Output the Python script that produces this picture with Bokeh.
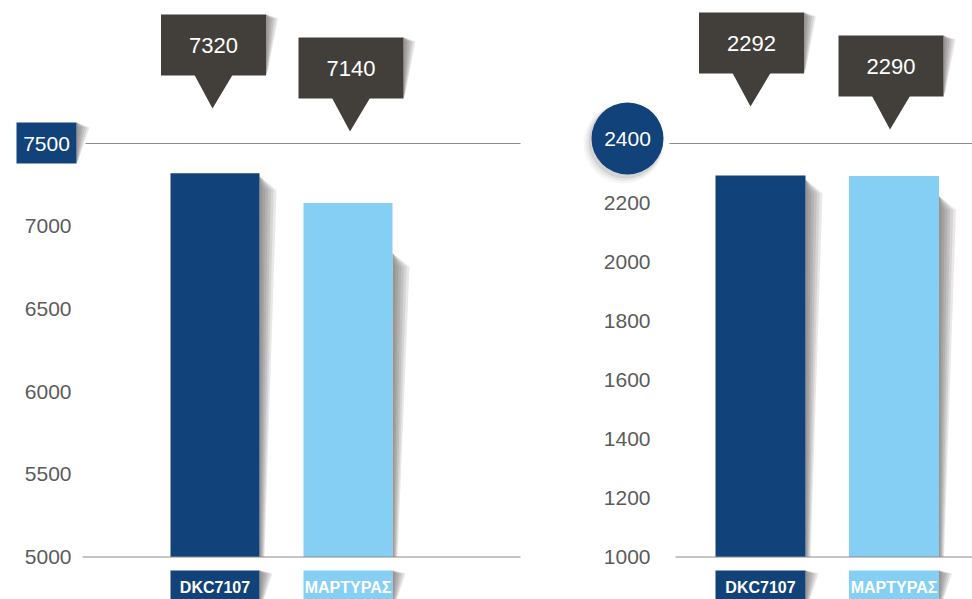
from bokeh.plotting import figure
from bokeh.models import Range1d
from bokeh.layouts import row
from bokeh.embed import file_html
from bokeh.resources import INLINE
from bokeh.core.properties import value

# ---------------- data ----------------
categories = ["DKC7107", "ΜΑΡΤΥΡΑΣ"]
left_values = [7320, 7140]
left_ticks = [5000, 5500, 6000, 6500, 7000, 7500]
right_values = [2292, 2290]
right_ticks = [1000, 1200, 1400, 1600, 1800, 2000, 2200, 2400]

# ---------------- style ----------------
BAR_COLORS = ["#11427a", "#85cff5"]
DARK_BLUE = "#11427a"
CALLOUT = "#423f3b"
TICK_GREY = "#5b5b5b"
LINE_GREY = "#8c8c8c"
SHADOW = "#3a3232"
FONT = "Liberation Sans"

FIG_H = 599
FIG_TOP = 0
BASE_PY = 556.5
TOP_PY = 143.0

LEFT_LAYOUT = dict(left=0, width=558, centers=[214.5, 347.5], bw=89, lab_right=71,
                   highlight="box", hl=(16, 76, 122, 163), grid=(85, 520), base=(82, 520),
                   c_tops=[14, 37], c_dx=[-1.5, 3], sh_off=[3, 50])
RIGHT_LAYOUT = dict(left=558, width=414, centers=[760, 893.5], bw=90, lab_right=650,
                    highlight="circle", hl=(627, 138, 72), grid=(669, 972), base=(675, 972),
                    c_tops=[12, 35], c_dx=[-9, -3], sh_off=[4, 20])


def build(ticks, values, cats, L):
    x0p = L["left"]
    unit = L["centers"][1] - L["centers"][0]
    xs = 1 - (L["centers"][0] - x0p) / unit
    vmin, vmax = ticks[0], ticks[-1]
    ppu = (BASE_PY - TOP_PY) / (vmax - vmin)

    def X(px):
        return xs + (px - x0p) / unit

    def Y(py):
        return vmin + (BASE_PY - py) / ppu

    def PX(x):
        return x0p + (x - xs) * unit

    def PY(v):
        return BASE_PY - (v - vmin) * ppu

    p = figure(width=L["width"], height=FIG_H,
               x_range=Range1d(X(x0p), X(x0p + L["width"])),
               y_range=Range1d(Y(FIG_TOP + FIG_H), Y(FIG_TOP)),
               output_backend="svg", toolbar_location=None,
               x_axis_location=None, y_axis_location=None,
               min_border=0, outline_line_color=None,
               background_fill_color="white", border_fill_color="white")
    p.xgrid.visible = False
    p.ygrid.visible = False

    def shadow(pts_fn, n=6, alpha=0.11):
        xs_l, ys_l = [], []
        for k in range(1, n + 1):
            pts = pts_fn(k / n)
            xs_l.append([X(a) for a, b in pts])
            ys_l.append([Y(b) for a, b in pts])
        p.patches(xs=xs_l, ys=ys_l, fill_color=SHADOW, fill_alpha=alpha, line_color=None)

    xpos = [i + 1 for i in range(len(values))]
    bw = L["bw"] / unit

    # bar shadows
    for i, v in enumerate(values):
        r = PX(xpos[i]) + L["bw"] / 2
        t = PY(v) + L["sh_off"][i]
        shadow(lambda f, r=r, t=t: [(r, t), (r + 17 * f, t + 14), (r + 5 * f, BASE_PY), (r, BASE_PY)])

    # bars
    p.vbar(x=xpos, top=values, bottom=vmin, width=bw, fill_color=BAR_COLORS, line_color=None)

    # lines
    p.segment(x0=[X(L["grid"][0]), X(L["base"][0])], x1=[X(L["grid"][1]), X(L["base"][1])],
              y0=[vmax, vmin], y1=[vmax, vmin], line_color=LINE_GREY, line_width=1.2)

    # tick labels
    p.text(x=[X(L["lab_right"])] * (len(ticks) - 1), y=ticks[:-1], text=[str(t) for t in ticks[:-1]],
           text_align="right", text_baseline="middle", text_color=TICK_GREY,
           text_font=value(FONT), text_font_size="21px")

    # highlighted top tick
    if L["highlight"] == "box":
        l, rr, tp, bt = L["hl"]
        shadow(lambda f: [(rr, tp), (rr + 13 * f, tp + 5), (rr + 2 * f, bt - 4), (rr, bt)])
        p.quad(left=X(l), right=X(rr), top=Y(tp), bottom=Y(bt), fill_color=DARK_BLUE, line_color=None)
        p.text(x=[X((l + rr) / 2)], y=[vmax], text=[str(vmax)], text_align="center",
               text_baseline="middle", text_color="white", text_font=value(FONT), text_font_size="21px")
    else:
        cx, cy, sz = L["hl"]
        for k, (dx, dy, ds, a) in enumerate([(-4, 5, 8, 0.05), (-3, 4, 5, 0.07), (-2, 3, 2, 0.10)]):
            p.scatter(x=[X(cx + dx)], y=[Y(cy + dy)], size=sz + ds, marker="circle",
                      fill_color=SHADOW, fill_alpha=a, line_color=None)
        p.scatter(x=[X(cx)], y=[Y(cy)], size=sz, marker="circle", fill_color=DARK_BLUE, line_color=None)
        p.text(x=[X(cx)], y=[Y(cy)], text=[str(vmax)], text_align="center",
               text_baseline="middle", text_color="white", text_font=value(FONT), text_font_size="21px")

    # callouts
    for i, v in enumerate(values):
        cx = PX(xpos[i]) + L["c_dx"][i]
        tp = L["c_tops"][i]
        bt = tp + 61
        l, rr = cx - 52.5, cx + 52.5
        shadow(lambda f, rr=rr, tp=tp, bt=bt: [(rr, tp), (rr + 12 * f, tp + 4), (rr + 2 * f, bt - 6), (rr, bt)])
        p.quad(left=X(l), right=X(rr), top=Y(tp), bottom=Y(bt), fill_color=CALLOUT, line_color=None)
        p.patch(x=[X(cx - 19), X(cx + 19), X(cx - 1)], y=[Y(bt - 0.5), Y(bt - 0.5), Y(bt + 33)],
                fill_color=CALLOUT, line_color=None)
        p.text(x=[X(cx)], y=[Y(tp + 31)], text=[str(v)], text_align="center", text_baseline="middle",
               text_color="white", text_font=value(FONT), text_font_size="22px")

    # category label boxes
    for i, c in enumerate(cats):
        l = PX(xpos[i]) - L["bw"] / 2
        rr = PX(xpos[i]) + L["bw"] / 2
        shadow(lambda f, rr=rr: [(rr, 570), (rr + 13 * f, 573), (rr + 4 * f, 600), (rr, 600)])
        p.quad(left=X(l), right=X(rr), top=Y(570), bottom=Y(610), fill_color=BAR_COLORS[i], line_color=None)
    p.text(x=xpos, y=[Y(587)] * len(cats), text=cats, text_align="center", text_baseline="middle",
           text_color="white", text_font=value(FONT), text_font_size="16px", text_font_style="bold")
    return p


p1 = build(left_ticks, left_values, categories, LEFT_LAYOUT)
p2 = build(right_ticks, right_values, categories, RIGHT_LAYOUT)
layout = row(p1, p2)

open("out.html", "w").write(file_html(layout, INLINE))
